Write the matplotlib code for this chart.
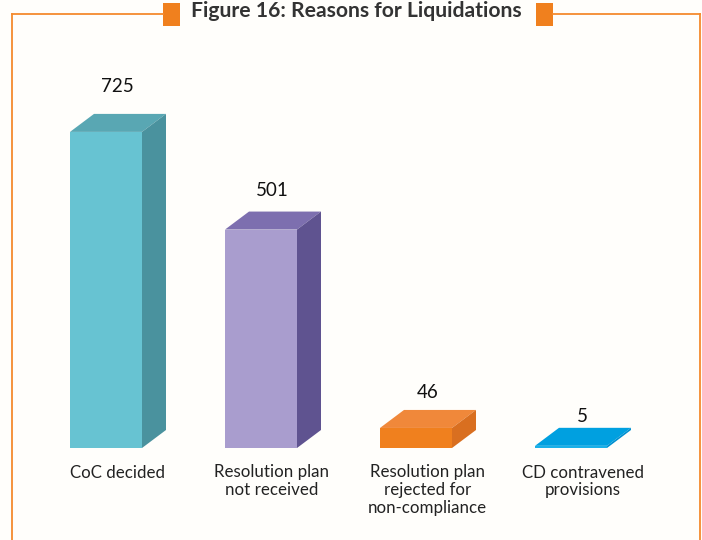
import matplotlib
matplotlib.use("Agg")
import matplotlib.pyplot as plt
from matplotlib.patches import Polygon, Rectangle
from matplotlib.lines import Line2D

categories = ["CoC decided", "Resolution plan\nnot received",
              "Resolution plan\nrejected for\nnon-compliance", "CD contravened\nprovisions"]
values = [725, 501, 46, 5]
front = ["#67C3D2", "#A99DCE", "#F0801E", "#1AB0E8"]
top = ["#59A7B3", "#7D6FAF", "#F0883A", "#00A0E0"]
side = ["#4A929E", "#5F5390", "#D96F20", "#0090D0"]
title = "Figure 16: Reasons for Liquidations"

W, H = 702, 540
BG = "#FFFEFB"
ORANGE = "#F58A2E"
plt.rcParams["font.family"] = ["Lato", "DejaVu Sans"]

fig = plt.figure(figsize=(W / 100, H / 100), dpi=100, facecolor=BG)
ax = fig.add_axes([0, 0, 1, 1])
ax.axis("off")
PX_X, PX_Y = 155, 0.436
X0, Y0 = 106, 448
ax.set_xlim((0 - X0) / PX_X, (W - X0) / PX_X)
ax.set_ylim((Y0 - H) / PX_Y, Y0 / PX_Y)

bw = 72 / PX_X
dx = 24 / PX_X
dy = 18 / PX_Y
for i, v in enumerate(values):
    l, r = i - bw / 2, i + bw / 2
    ax.bar(i, v, width=bw, color=front[i], linewidth=0, zorder=3)
    ax.add_patch(Polygon([(l, v), (r, v), (r + dx, v + dy), (l + dx, v + dy)],
                         closed=True, fc=top[i], ec="none", zorder=3))
    ax.add_patch(Polygon([(r, 0), (r + dx, dy), (r + dx, v + dy), (r, v)],
                         closed=True, fc=side[i], ec="none", zorder=3))

val_y = [87, 190, 392, 416]
val_dx = [11.5, 11.5, 11.5, 11.5]
for i, v in enumerate(values):
    ax.text(i + val_dx[i] / PX_X, (Y0 - val_y[i]) / PX_Y, str(v), ha="center", va="center",
            fontsize=13.5, color="#111111")
label_dx = [12, 11, 11.5, 11.5]
for i, c in enumerate(categories):
    ax.text(i + label_dx[i] / PX_X, (Y0 - 464.5) / PX_Y, c, ha="center", va="top",
            fontsize=12.2, color="#222222", linespacing=1.12)

def fx(p): return p / W
def fy(p): return 1 - p / H
for xs, ys in [([12, 12], [540, 14]), ([12, 163], [14, 14]), ([553, 699.5], [14, 14]), ([699.5, 699.5], [14, 540])]:
    fig.add_artist(Line2D([fx(a) for a in xs], [fy(a) for a in ys], color=ORANGE, lw=1.3))
for x0 in (163, 536):
    fig.add_artist(Rectangle((fx(x0), fy(26)), 17 / W, 23 / H, transform=fig.transFigure,
                             fc="#F0801E", ec="none"))
fig.text(fx(356.5), fy(11), title, ha="center", va="center", fontsize=15.2,
         fontweight="bold", color="#333333")
fig.savefig("out.png", dpi=100, facecolor=BG)
